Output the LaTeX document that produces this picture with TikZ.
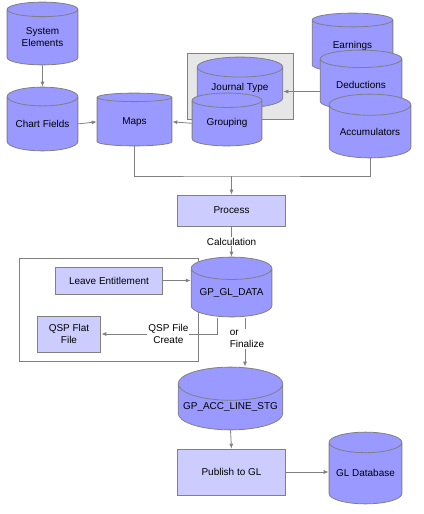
\documentclass[tikz,border=0pt]{standalone}
\usepackage{fontspec}
\setmainfont{Liberation Sans}
\usetikzlibrary{shapes.geometric,arrows.meta}

\definecolor{dbblue}{HTML}{9999FF}
\definecolor{boxblue}{HTML}{CCCCFF}
\definecolor{edgegray}{HTML}{808080}
\definecolor{panelgray}{HTML}{E6E6E6}

\begin{document}
\begin{tikzpicture}[x=1bp,y=-1bp,
		font=\fontsize{10}{12}\selectfont,
		db/.style={cylinder,shape border rotate=90,aspect=0.35,draw=edgegray,fill=dbblue,
			line width=0.8bp,inner sep=0pt,align=center,anchor=shape center},
		box/.style={rectangle,draw=edgegray,fill=boxblue,line width=0.8bp,inner sep=0pt,align=center},
		arr/.style={draw=edgegray,line width=0.8bp,-{Latex[length=5bp,width=4bp]}},
		link/.style={draw=edgegray,line width=0.8bp},
		lbl/.style={fill=white,inner sep=1bp,align=center}]
		
		\useasboundingbox (0,0) rectangle (423,514);
		
		% source tables
		\node[db,minimum width=71,minimum height=63] (sysel) at (42.5,33.5) {System\\Elements};
		\node[db,minimum width=71,minimum height=64] (chartf) at (42.5,119) {Chart Fields};
		\node[db,minimum width=75,minimum height=53] (maps) at (134.5,119.5) {Maps};
		
		\node[rectangle,draw=edgegray,fill=panelgray,line width=0.8bp,minimum width=107,minimum height=67] (jpanel) at (240.5,86.5) {};
		\node[db,minimum width=86,minimum height=51] (jtype) at (240,82.5) {Journal Type};
		\node[db,minimum width=70,minimum height=53] (grouping) at (227,119.5) {Grouping};
		
		\node[db,minimum width=81,minimum height=59] (earn) at (352.5,42.5) {Earnings};
		\node[db,minimum width=82,minimum height=60] (deduct) at (361,80) {Deductions};
		\node[db,minimum width=82,minimum height=64] (accum) at (370,126) {Accumulators};
		
		% processing
		\node[box,minimum width=109,minimum height=31] (proc) at (231.5,210.5) {Process};
		\node[rectangle,draw=edgegray,line width=0.8bp,minimum width=180,minimum height=104] (calcframe) at (109,310) {};
		\node[db,minimum width=81,minimum height=60] (gldata) at (231.5,287) {GP\_GL\_DATA};
		\node[box,minimum width=108,minimum height=27] (leave) at (109,280.5) {Leave Entitlement};
		\node[box,minimum width=64,minimum height=36] (qsp) at (69,334) {QSP Flat\\File};
		\node[db,minimum width=105,minimum height=63] (accline) at (230.5,398.5) {GP\_ACC\_LINE\_STG};
		\node[box,minimum width=109,minimum height=46] (publish) at (231.5,472) {Publish to GL};
		\node[db,minimum width=73,minimum height=72] (gldb) at (365.5,468) {GL Database};
		
		\coordinate (merge) at (231.5,176);
		\coordinate (qspout) at (217,318);
		\coordinate (finout) at (245,318);
		
		% connectors
		\draw[arr] (sysel.south) -- (chartf.north);
		\draw[arr] (chartf.east) -- (maps.west);
		\draw[arr] (grouping.west) -- (maps.east);
		\draw[arr] ([yshift=-7bp]deduct.west) -- ([yshift=-7bp]deduct.west -| jtype.east);
		\draw[link] (maps.south) |- (merge) -| (accum.south);
		\draw[arr] (merge) -- (proc.north);
		\draw[arr] (proc.south) -- node[lbl] {Calculation} (gldata.north);
		\draw[arr] (leave.east) -- (leave.east -| gldata.west);
		\draw[arr] (qspout) |- node[lbl,pos=0.71] {QSP File\\Create} (qsp.east);
		\draw[arr] (finout) -- (finout |- accline.north);
		\node[lbl,align=left] (finlbl) at (247,339) {or\\Finalize};
		\draw[arr] (accline.south) -- (publish.north);
		\draw[arr] (publish.east) -- (publish.east -| gldb.west);
		
	\end{tikzpicture}
\end{document}
